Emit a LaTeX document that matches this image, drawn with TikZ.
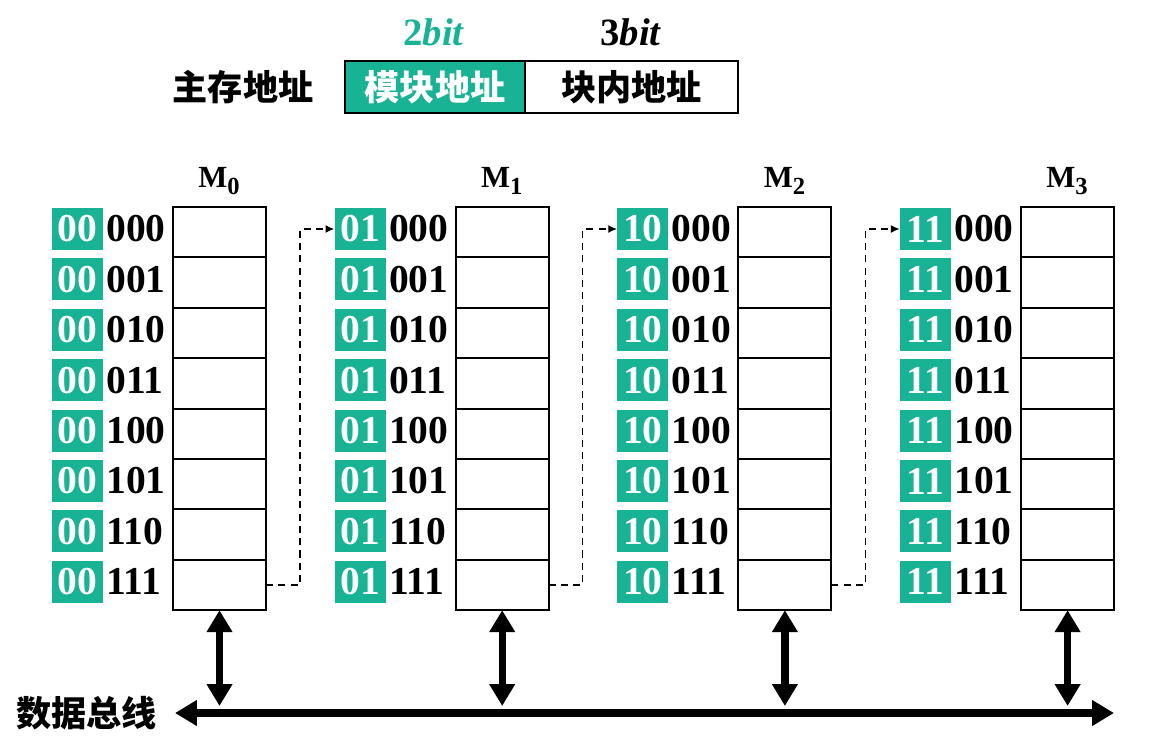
\documentclass[tikz,border=0pt]{standalone}
\usepackage{fontspec}
\setmainfont{Liberation Serif}
\newfontfamily\cjk{Noto Sans CJK SC}
\usetikzlibrary{arrows.meta,positioning}
\definecolor{modgreen}{RGB}{24,178,148}
\newcommand{\bitfont}{\fontsize{22.5}{26}\selectfont\bfseries}
\newcommand{\cjkfont}{\fontsize{20}{24}\selectfont\cjk\bfseries}

\begin{document}
\begin{tikzpicture}[x=0.02cm,y=-0.02cm,
    cell/.style={draw,line width=1.1pt,minimum width=1.86cm,minimum height=1.008cm,inner sep=0pt,outer sep=0pt},
    hibits/.style={fill=modgreen,text=white,minimum width=1.02cm,minimum height=0.84cm,inner sep=0pt,font=\bitfont},
    lobits/.style={inner sep=0pt,font=\bitfont},
    modlabel/.style={font=\fontsize{17.5}{20}\selectfont\bfseries},
    addrbox/.style={draw,line width=1.1pt,minimum height=1.04cm,inner sep=0pt,font=\cjkfont},
    link/.style={dashed,line width=0.8pt,dash pattern=on 4pt off 3pt,-{Latex[length=5pt,width=4.5pt]}},
    busarrow/.style={line width=4.2pt,{Triangle[length=12.5pt,width=14pt]}-{Triangle[length=12.5pt,width=14pt]}}]
\useasboundingbox (0,0) rectangle (1166,754);

% main memory address format
\node[font=\cjkfont] (mainaddr) at (243,87) {主存地址};
\node[addrbox,fill=modgreen,text=white,minimum width=3.6cm] (modaddr) at (435,87) {模块地址};
\node[addrbox,minimum width=4.26cm] (inaddr) at (631.5,87) {块内地址};
\node[font=\fontsize{22}{26}\selectfont\bfseries,text=modgreen] (hiwidth) at (434,32) {2\textit{bit}};
\node[font=\fontsize{22}{26}\selectfont\bfseries] (lowidth) at (631,32) {3\textit{bit}};

% the four modules
\foreach \m/\hi in {0/00,1/01,2/10,3/11} {
  \node[modlabel] (mlab-\m) at (219+282.7*\m,181) {M\raisebox{-0.45ex}{\fontsize{14}{16}\selectfont\m}};
  \foreach \lo [count=\r] in {000,001,010,011,100,101,110,111} {
    \node[cell] (c-\m-\r) at (219.5+282.7*\m,232.2+50.4*\r-50.4) {};
    \node[hibits] (g-\m-\r) at (77.5+282.7*\m,229+50.4*\r-50.4) {\hi};
    \node[lobits,anchor=west] (b-\m-\r) at ([xshift=1.5pt]g-\m-\r.east) {\lo};
  }
}

% data bus
\coordinate (busL) at (175,713);
\coordinate (busR) at (1114,713);
\draw[busarrow,line width=4.4pt] (busL) -- (busR);
\node[font=\cjkfont,anchor=east] (buslabel) at (163,713) {数据总线};
\foreach \m in {0,1,2,3}
  \draw[busarrow] (c-\m-8.south) -- ([yshift=4pt]c-\m-8.south |- busL);

% links between modules
\foreach \m [count=\n] in {0,1,2}
  \draw[link] (c-\m-8.east) -- ++(34,0) |- (g-\n-1.west);
\end{tikzpicture}
\end{document}
